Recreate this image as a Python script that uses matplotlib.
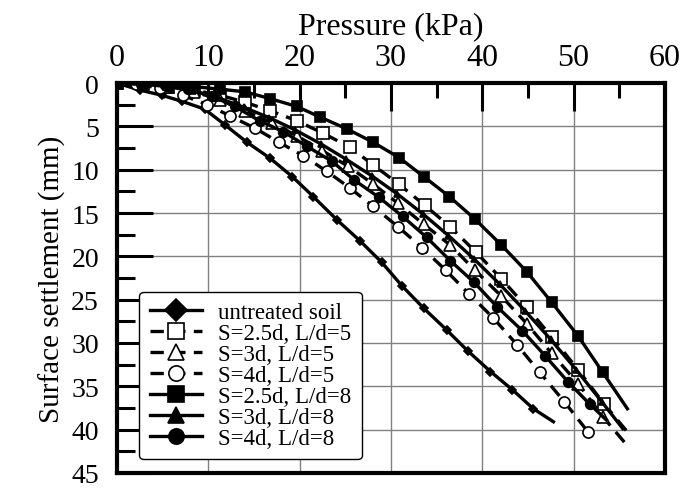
import matplotlib
matplotlib.use("Agg")
import matplotlib.pyplot as plt
from matplotlib.lines import Line2D
from matplotlib.ticker import MultipleLocator

plt.rcParams["font.family"] = ["Liberation Serif", "DejaVu Serif"]

# series labels (legend order)
labels = ["untreated soil", "S=2.5d, L/d=5", "S=3d, L/d=5", "S=4d, L/d=5",
          "S=2.5d, L/d=8", "S=3d, L/d=8", "S=4d, L/d=8"]

# pressure (kPa) / surface settlement (mm); last point of most curves is the line end only
untreated_p = [0, 2.5, 4.9, 7.1, 9.6, 11.8, 14.2, 16.8, 19.2, 21.5, 24.1, 26.6, 29.0,
               31.2, 33.6, 36.1, 38.4, 40.9, 43.3, 45.6, 47.8]
untreated_s = [0, 0.8, 1.4, 2.1, 3.0, 4.8, 6.8, 8.7, 10.8, 13.1, 15.8, 18.2, 20.7,
               23.4, 26.0, 28.5, 30.9, 33.3, 35.4, 37.6, 39.1]

sq5_p = [0, 2.8, 5.6, 8.4, 11.3, 14.0, 16.8, 19.7, 22.6, 25.5, 28.0, 30.9, 33.7,
         36.5, 39.3, 42.1, 44.9, 47.6, 50.5, 53.3, 56.0]
sq5_s = [0, 0.15, 0.4, 0.8, 1.4, 2.2, 3.2, 4.35, 5.8, 7.4, 9.4, 11.7, 14.1,
         16.6, 19.5, 22.6, 25.9, 29.3, 33.1, 37.0, 40.4]

tri5_p = [0, 2.7, 5.6, 8.4, 11.3, 14.0, 17.0, 19.7, 22.5, 25.3, 28.0, 30.8, 33.6,
          36.5, 39.2, 42.1, 44.9, 47.6, 50.5, 53.2, 56.0]
tri5_s = [0, 0.1, 0.5, 1.0, 1.9, 3.2, 4.6, 6.1, 7.8, 9.6, 11.6, 13.9, 16.3,
          18.7, 21.6, 24.6, 27.8, 31.2, 34.7, 38.5, 42.0]

cir5_p = [0, 2.1, 4.7, 7.2, 9.9, 12.4, 15.1, 17.7, 20.4, 23.0, 25.5, 28.0, 30.8,
          33.4, 36.0, 38.6, 41.2, 43.8, 46.3, 49.0, 51.6]
cir5_s = [0, 0.1, 0.6, 1.4, 2.5, 3.8, 5.2, 6.8, 8.4, 10.2, 12.1, 14.2, 16.6,
          19.0, 21.6, 24.4, 27.1, 30.2, 33.4, 36.8, 40.3]

sq8_p = [0, 2.8, 5.6, 8.4, 11.3, 14.0, 16.8, 19.7, 22.2, 25.2, 28.0, 30.9, 33.6,
         36.4, 39.2, 42.1, 44.9, 47.6, 50.5, 53.2, 55.9]
sq8_s = [0, 0.1, 0.25, 0.4, 0.7, 1.0, 1.8, 2.7, 3.9, 5.3, 6.8, 8.6, 10.8,
         13.1, 15.7, 18.7, 21.8, 25.3, 29.2, 33.4, 37.6]

tri8_p = [0, 2.7, 5.5, 8.3, 11.1, 13.9, 16.7, 19.5, 22.3, 25.1, 27.9, 30.7, 33.5,
          36.3, 39.1, 41.9, 44.7, 47.5, 50.3, 53.1, 55.4]
tri8_s = [0, 0.1, 0.4, 0.9, 1.7, 2.8, 4.0, 5.4, 7.0, 8.8, 10.7, 12.8, 15.1,
          17.6, 20.3, 23.2, 26.3, 29.6, 33.1, 36.8, 39.9]

cir8_p = [0, 2.6, 5.3, 7.8, 10.4, 12.9, 15.7, 18.2, 20.8, 23.5, 26.0, 28.7, 31.3,
          33.9, 36.5, 39.1, 41.6, 44.4, 46.9, 49.4, 51.8, 53.6]
cir8_s = [0, 0.1, 0.2, 0.7, 1.5, 2.7, 4.4, 5.6, 7.3, 9.0, 11.2, 13.2, 15.4,
          17.8, 20.5, 23.0, 25.8, 28.6, 31.5, 34.5, 37.1, 38.9]

# plotting styles: marker, fill, size, linestyle, markers on all points?
styles = [
    ("D", "black", 4, "-", False),
    ("s", "white", 8, (0, (4, 2.5)), False),
    ("^", "white", 8, (0, (4, 2.5)), False),
    ("o", "white", 8, (0, (4, 2.5)), True),
    ("s", "black", 7.5, "-", False),
    ("^", "black", 5, "-", False),
    ("o", "black", 7, "-", False),
]
series = [(untreated_p, untreated_s), (sq5_p, sq5_s), (tri5_p, tri5_s), (cir5_p, cir5_s),
          (sq8_p, sq8_s), (tri8_p, tri8_s), (cir8_p, cir8_s)]

fig = plt.figure(figsize=(6.84, 4.89), dpi=100)
ax = fig.add_axes([0.171, 0.031, 0.801, 0.797])

for (p, s), (mk, fc, ms, ls, allpts) in zip(series, styles):
    every = slice(None) if allpts else slice(0, -1)
    ax.plot(p, s, color="black", lw=2.4, linestyle=ls, marker=mk, ms=ms,
            mfc=fc, mec="black", mew=1.2, markevery=every, zorder=3)

ax.set_xlim(0, 60)
ax.set_ylim(45, 0)
ax.xaxis.tick_top()
ax.xaxis.set_label_position("top")
ax.xaxis.set_major_locator(MultipleLocator(10))
ax.xaxis.set_minor_locator(MultipleLocator(5))
ax.yaxis.set_major_locator(MultipleLocator(5))
ax.yaxis.set_minor_locator(MultipleLocator(2.5))
ax.tick_params(axis="x", which="major", direction="in", length=20, width=2.2,
               labelsize=23, pad=8)
ax.tick_params(axis="x", which="minor", direction="in", length=11, width=2.2)
ax.tick_params(axis="y", which="major", direction="in", length=26, width=2.2,
               labelsize=20, pad=13)
ax.tick_params(axis="y", which="minor", direction="in", length=13, width=2.2)
for sp in ax.spines.values():
    sp.set_linewidth(3)
ax.grid(True, which="major", color="#808080", lw=1.0, zorder=0)
ax.set_axisbelow(True)

ax.set_xlabel("Pressure (kPa)", fontsize=23, labelpad=7)
ax.set_ylabel("Surface settlement (mm)", fontsize=21, labelpad=4)

handles = []
for lab, (mk, fc, ms, ls, allpts) in zip(labels, styles):
    handles.append(Line2D([], [], color="black", lw=2.4, linestyle=ls, marker=mk,
                          ms=11, mfc=fc, mec="black", mew=1.2, label=lab))
leg = ax.legend(handles=handles, loc="lower left", bbox_to_anchor=(0.02, 0.005),
                fontsize=16.5, frameon=True, fancybox=True, edgecolor="black",
                framealpha=1, handlelength=2.3, handletextpad=0.7,
                labelspacing=0.0, borderpad=0.45)
leg.get_frame().set_linewidth(1.0)

fig.savefig("out.png", dpi=100)
